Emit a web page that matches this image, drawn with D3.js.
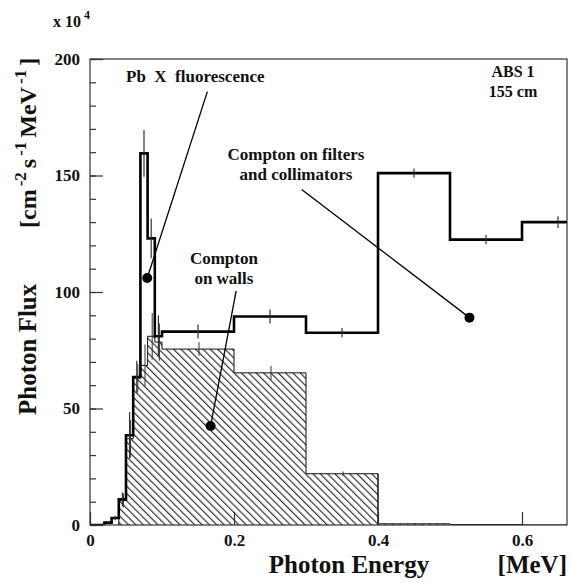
<!DOCTYPE html>
<html>
<head>
<meta charset="utf-8">
<script src="https://cdn.jsdelivr.net/npm/d3@7"></script>
<style>
  html, body { margin: 0; padding: 0; background: #fff; }
  svg { display: block; }
  text { font-family: "Liberation Serif", "DejaVu Serif", serif; font-weight: bold; fill: #111; }
</style>
</head>
<body>
<svg id="chart" width="570" height="583"></svg>
<script>
// ---- data ----
const binEdges = [0, 0.01, 0.02, 0.03, 0.04, 0.05, 0.06, 0.07, 0.08, 0.09, 0.1, 0.2, 0.3, 0.4, 0.5, 0.6, 0.7];
const totalFlux = [0, 0, 1, 3, 11, 38.5, 63.5, 159.5, 123, 81, 83, 89.5, 82.5, 151, 122.5, 130];
const totalErr  = [0, 0, 0.5, 1, 3, 10, 7, 10, 8.5, 9, 3, 3, 2, 2, 2, 2.5];
const wallFlux  = [0, 0, 0, 0, 10.5, 37, 63, 68.5, 81, 78.5, 75.5, 65.3, 22, 0.5, 0.2, 0];
const wallErr   = [0, 0, 0, 0, 3, 8, 6, 9, 10, 8, 3, 3, 1, 0.3, 0, 0];
const yMajorTicks = [0, 50, 100, 150, 200];
const yMinorTicks = d3.range(0, 201, 10);
const xTicks = [0, 0.2, 0.4, 0.6];
const xTickLabels = ["0", "0.2", "0.4", "0.6"];
const annotations = [
  { lines: ["Pb\u00a0\u00a0X\u00a0\u00a0fluorescence"], anchor: "start", tx: 0.05, ty: 190, from: [0.163, 186], dot: [0.0795, 106] },
  { lines: ["Compton", "on walls"], anchor: "middle", tx: 0.186, ty: 112, from: [0.203, 100.5], dot: [0.1675, 42.5] },
  { lines: ["Compton on filters", "and collimators"], anchor: "middle", tx: 0.286, ty: 156.6, from: [0.294, 144], dot: [0.527, 89] }
];
const infoLines = ["ABS 1", "155 cm"];

// ---- layout ----
const L = 90, R = 567, T = 59, B = 525;
const svg = d3.select("#chart");
const x = d3.scaleLinear().domain([0, 0.6625]).range([L, R]);
const y = d3.scaleLinear().domain([0, 200]).range([B, T]);

const defs = svg.append("defs");
defs.append("clipPath").attr("id", "plotclip")
  .append("rect").attr("x", L).attr("y", T).attr("width", R - L).attr("height", B - T);
const pat = defs.append("pattern").attr("id", "hatch")
  .attr("patternUnits", "userSpaceOnUse").attr("width", 5.2).attr("height", 5.2)
  .attr("patternTransform", "rotate(-45)");
pat.append("line").attr("x1", 0.6).attr("y1", 0).attr("x2", 0.6).attr("y2", 5.2)
  .attr("stroke", "#222").attr("stroke-width", 1.1);

const plot = svg.append("g").attr("clip-path", "url(#plotclip)");

function stepPoints(vals) {
  const pts = vals.map((v, i) => [binEdges[i], v]);
  pts.push([binEdges[vals.length], vals[vals.length - 1]]);
  return pts;
}

// hatched area (Compton on walls)
const area = d3.area().x(d => x(d[0])).y0(y(0)).y1(d => y(d[1])).curve(d3.curveStepAfter);
const lineGen = d3.line().x(d => x(d[0])).y(d => y(d[1])).curve(d3.curveStepAfter);
const wallPts = stepPoints(wallFlux);
plot.append("path").attr("d", area(wallPts)).attr("fill", "url(#hatch)");
const wallOutline = [[0.04, 0]].concat(wallPts.filter(p => p[0] >= 0.04));
plot.append("path").attr("d", lineGen(wallOutline)).attr("fill", "none")
  .attr("stroke", "#111").attr("stroke-width", 1);
plot.append("line").attr("x1", x(0.4)).attr("x2", x(0.4)).attr("y1", y(wallFlux[12])).attr("y2", y(0))
  .attr("stroke", "#111").attr("stroke-width", 1);

// wall errors
binEdges.slice(0, -1).forEach((e, i) => {
  if (wallErr[i] > 0) {
    const cx = x((e + binEdges[i + 1]) / 2) + 1;
    plot.append("line").attr("x1", cx).attr("x2", cx)
      .attr("y1", y(wallFlux[i] - wallErr[i])).attr("y2", y(wallFlux[i] + wallErr[i]))
      .attr("stroke", "#333").attr("stroke-width", 1);
  }
});

// total (thick)
plot.append("path").attr("d", lineGen(stepPoints(totalFlux))).attr("fill", "none")
  .attr("stroke", "#000").attr("stroke-width", 2.6).attr("stroke-linejoin", "miter");
binEdges.slice(0, -1).forEach((e, i) => {
  if (totalErr[i] > 0) {
    const cx = x((e + binEdges[i + 1]) / 2);
    plot.append("line").attr("x1", cx).attr("x2", cx)
      .attr("y1", y(totalFlux[i] - totalErr[i])).attr("y2", y(totalFlux[i] + totalErr[i]))
      .attr("stroke", "#333").attr("stroke-width", 1.2);
  }
});

// ---- frame & axes ----
svg.append("rect").attr("x", L).attr("y", T).attr("width", R - L).attr("height", B - T)
  .attr("fill", "none").attr("stroke", "#333").attr("stroke-width", 1.2);

const yMinor = svg.append("g").attr("transform", `translate(${L},0)`)
  .call(d3.axisLeft(y).tickValues(yMinorTicks).tickSizeInner(-6).tickSizeOuter(0).tickFormat(""));
const yMajor = svg.append("g").attr("transform", `translate(${L},0)`)
  .call(d3.axisLeft(y).tickValues(yMajorTicks).tickSizeInner(-13).tickSizeOuter(0).tickPadding(10));
const xAx = svg.append("g").attr("transform", `translate(0,${B})`)
  .call(d3.axisBottom(x).tickValues(xTicks).tickSizeInner(-13).tickSizeOuter(0).tickPadding(9)
    .tickFormat((d, i) => xTickLabels[i]));
[yMinor, yMajor, xAx].forEach(g => {
  g.attr("font-family", null);
  g.select(".domain").remove();
  g.selectAll(".tick line").attr("stroke", "#333").attr("stroke-width", 1.2);
  g.selectAll("text").attr("font-size", 17).attr("fill", "#111");
});

// x10^4
const mult = svg.append("text").attr("x", 53).attr("y", 27).attr("font-size", 16);
mult.append("tspan").text("x 10");
mult.append("tspan").attr("dx", 3).attr("dy", -8).attr("font-size", 12).text("4");

// axis titles
svg.append("text").attr("x", R).attr("y", 573).attr("text-anchor", "end")
  .attr("font-size", 25).text("[MeV]");
svg.append("text").attr("x", 349).attr("y", 573).attr("text-anchor", "middle")
  .attr("font-size", 25).text("Photon Energy");

const yt = svg.append("text").attr("transform", "translate(36,415) rotate(-90)")
  .attr("font-size", 25);
yt.append("tspan").text("Photon Flux");
const yu = svg.append("text").attr("transform", "translate(36,228) rotate(-90)")
  .attr("font-size", 24);
yu.append("tspan").text("[cm");
yu.append("tspan").attr("dx", 3).attr("dy", -10).attr("font-size", 17).text("-2");
yu.append("tspan").attr("dx", 4).attr("dy", 10).text("s");
yu.append("tspan").attr("dx", 3).attr("dy", -10).attr("font-size", 17).text("-1");
yu.append("tspan").attr("dx", 4).attr("dy", 10).text("MeV");
yu.append("tspan").attr("dx", 3).attr("dy", -10).attr("font-size", 17).text("-1");
yu.append("tspan").attr("dx", 4).attr("dy", 10).text("]");

// annotations
annotations.forEach(a => {
  const t = svg.append("text").attr("x", x(a.tx)).attr("y", y(a.ty))
    .attr("text-anchor", a.anchor).attr("font-size", 17);
  a.lines.forEach((ln, i) => t.append("tspan").attr("x", x(a.tx)).attr("dy", i === 0 ? 0 : 20).text(ln));
  svg.append("line").attr("x1", x(a.from[0])).attr("y1", y(a.from[1]))
    .attr("x2", x(a.dot[0])).attr("y2", y(a.dot[1])).attr("stroke", "#000").attr("stroke-width", 1.3);
  svg.append("circle").attr("cx", x(a.dot[0])).attr("cy", y(a.dot[1])).attr("r", 5).attr("fill", "#000");
});

const info = svg.append("text").attr("x", 513).attr("y", 77).attr("text-anchor", "middle").attr("font-size", 16);
infoLines.forEach((ln, i) => info.append("tspan").attr("x", 513).attr("dy", i === 0 ? 0 : 20).text(ln));
</script>
</body>
</html>
